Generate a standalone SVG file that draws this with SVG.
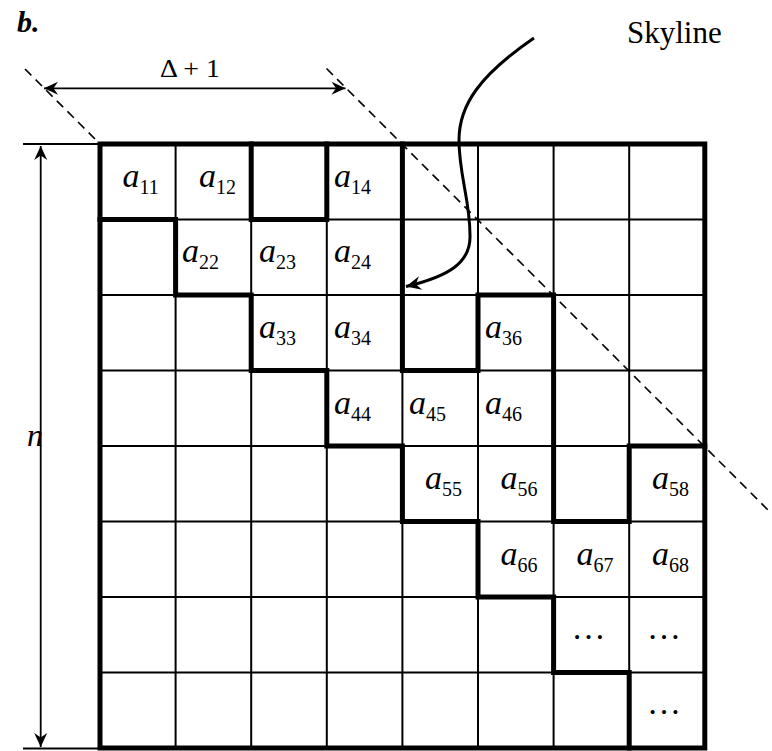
<svg xmlns="http://www.w3.org/2000/svg" width="772" height="751" viewBox="0 0 772 751">
<style>
.thin{stroke:#000;stroke-width:2;fill:none}
.thick{stroke:#000;stroke-width:5;fill:none;stroke-linecap:square;stroke-linejoin:miter}
.dash{stroke:#000;stroke-width:1.6;stroke-dasharray:9 6;fill:none}
.dim{stroke:#000;stroke-width:1.8;fill:none}
.a{font-style:italic;font-size:34px}
.s{font-style:normal;font-size:20px}
</style>
<defs>
<marker id="ah" markerUnits="userSpaceOnUse" viewBox="-15 -8 16 16" refX="0" refY="0" markerWidth="16" markerHeight="16" orient="auto-start-reverse">
<path d="M0,0 L-14,-6.5 L-9.5,0 L-14,6.5 Z" fill="#000"/>
</marker>
<marker id="ah2" markerUnits="userSpaceOnUse" viewBox="-16 -9 17 18" refX="0" refY="0" markerWidth="17" markerHeight="18" orient="auto">
<path d="M0,0 L-15,-7 L-10,0 L-15,7 Z" fill="#000"/>
</marker>
</defs>
<rect width="772" height="751" fill="#fff"/>

<g id="grid">
<path class="thin" d="M175.6,144V748M251.2,144V748M326.8,144V748M402.4,144V748M478,144V748M553.6,144V748M629.2,144V748M100,219.5H704.8M100,295H704.8M100,370.5H704.8M100,446H704.8M100,521.5H704.8M100,597H704.8M100,672.5H704.8"/>
</g>

<g id="connectors">
<path class="dash" d="M25,69 L100,144"/>
<path class="dash" d="M326.5,68.5 L772,514"/>
<path class="thick" d="M100,219.5 H175.6 V295 H251.2 V370.5 H326.8 V446 H402.4 V521.5 H478 V597 H553.6 V672.5 H629.2 V748"/>
<path class="thick" d="M251.2,144 V219.5 H326.8 V144"/>
<path class="thick" d="M402.4,144 V370.5 H478 V295 H553.6 V521.5 H629.2 V446 H704.8"/>
<rect class="thick" x="100" y="144" width="604.8" height="604"/>
<path class="dim" d="M44,88.3 H345.5" marker-start="url(#ah)" marker-end="url(#ah)"/>
<path class="dim" d="M23,144 H100 M23,748.5 H100"/>
<path class="dim" d="M40.7,146 V747" marker-start="url(#ah)" marker-end="url(#ah)"/>
<path d="M534,38 C480,75 459,105 459,140 C459,175 470,200 470,235 C471,262 450,276 406,286.5" stroke="#000" stroke-width="3" fill="none" marker-end="url(#ah2)"/>
</g>

<g id="labels" font-family="Liberation Serif, Times New Roman, serif" fill="#000">
<text x="17" y="32" font-size="30" font-weight="bold" font-style="italic">b.</text>
<text font-size="26" x="160" y="77" xml:space="preserve" textLength="60" lengthAdjust="spacingAndGlyphs">Δ + 1</text>
<text font-size="31" x="627" y="43">Skyline</text>
<text font-size="32" font-style="italic" x="27" y="446">n</text>
</g>

<g id="cells" font-family="Liberation Serif, Times New Roman, serif" fill="#000">
<text class="a" x="122.5" y="187">a<tspan class="s" dy="7">11</tspan></text>
<text class="a" x="199" y="187">a<tspan class="s" dy="7">12</tspan></text>
<text class="a" x="334" y="187">a<tspan class="s" dy="7">14</tspan></text>
<text class="a" x="182" y="262">a<tspan class="s" dy="7">22</tspan></text>
<text class="a" x="259" y="262">a<tspan class="s" dy="7">23</tspan></text>
<text class="a" x="334" y="262">a<tspan class="s" dy="7">24</tspan></text>
<text class="a" x="259" y="338">a<tspan class="s" dy="7">33</tspan></text>
<text class="a" x="334" y="338">a<tspan class="s" dy="7">34</tspan></text>
<text class="a" x="485" y="338">a<tspan class="s" dy="7">36</tspan></text>
<text class="a" x="334" y="413.5">a<tspan class="s" dy="7">44</tspan></text>
<text class="a" x="409" y="413.5">a<tspan class="s" dy="7">45</tspan></text>
<text class="a" x="485" y="413.5">a<tspan class="s" dy="7">46</tspan></text>
<text class="a" x="425" y="489">a<tspan class="s" dy="7">55</tspan></text>
<text class="a" x="500.5" y="489">a<tspan class="s" dy="7">56</tspan></text>
<text class="a" x="652" y="489">a<tspan class="s" dy="7">58</tspan></text>
<text class="a" x="500.5" y="564.5">a<tspan class="s" dy="7">66</tspan></text>
<text class="a" x="576.5" y="564.5">a<tspan class="s" dy="7">67</tspan></text>
<text class="a" x="652" y="564.5">a<tspan class="s" dy="7">68</tspan></text>
<text font-size="34" x="588.5" y="639" text-anchor="middle">…</text>
<text font-size="34" x="664" y="639" text-anchor="middle">…</text>
<text font-size="34" x="664" y="714" text-anchor="middle">…</text>
</g>
</svg>
